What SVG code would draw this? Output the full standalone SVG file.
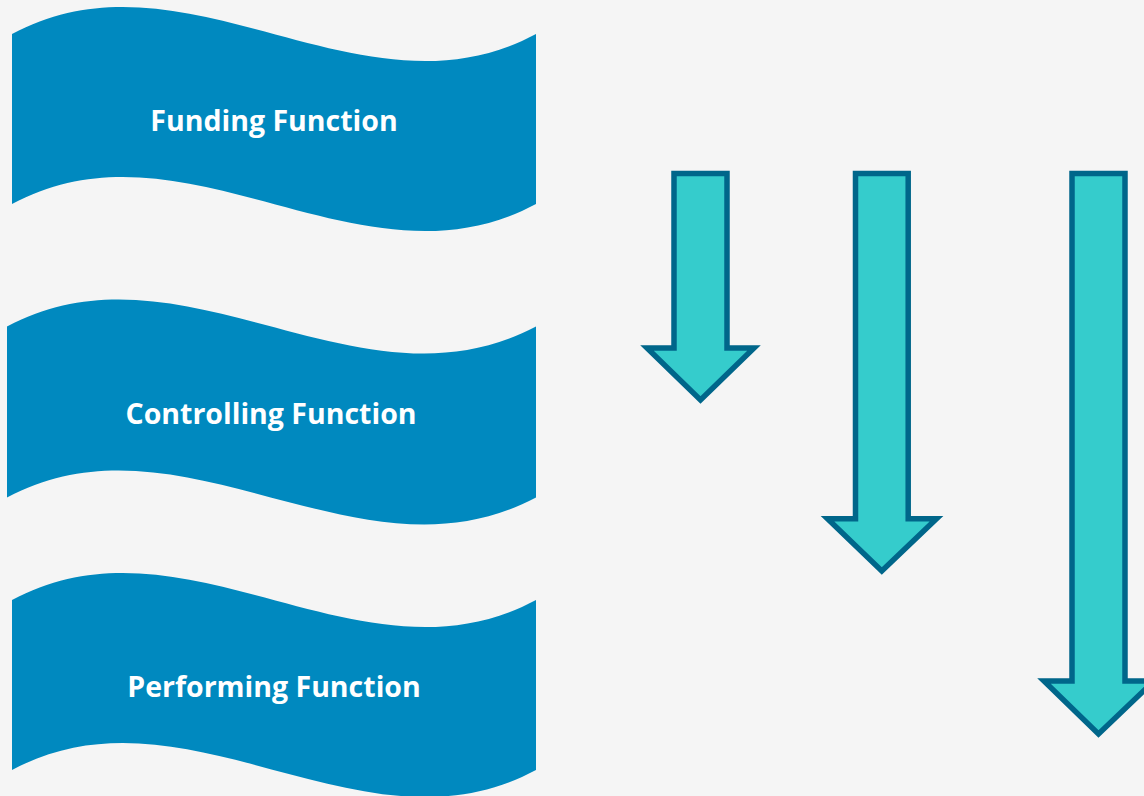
<svg xmlns="http://www.w3.org/2000/svg" width="1144" height="796" viewBox="0 0 1144 796">
<style>
.wave{fill:#0089BF;}
.lbl{fill:#FFFFFF;font-family:"Open Sans","Liberation Sans",sans-serif;font-weight:700;font-size:28.5px;text-anchor:middle;}
.arr{fill:#35CCCC;stroke:#00668A;stroke-width:5.5;stroke-linejoin:miter;stroke-miterlimit:10;}
</style>
<rect width="1144" height="796" fill="#F5F5F5"/>
<g id="funding">
<path class="wave" d="M12,34 C186.7,-59.5 361.3,127.5 536,34 L536,204 C361.3,297.5 186.7,110.5 12,204 Z"/>
<text class="lbl" x="274" y="131">Funding Function</text>
</g>
<g id="controlling">
<path class="wave" d="M7,326.5 C183.3,233 359.7,420 536,326.5 L536,497.5 C359.7,591 183.3,404 7,497.5 Z"/>
<text class="lbl" x="271" y="424">Controlling Function</text>
</g>
<g id="performing">
<path class="wave" d="M12,600 C186.7,506.5 361.3,693.5 536,600 L536,770 C361.3,863.5 186.7,676.5 12,770 Z"/>
<text class="lbl" x="274" y="697">Performing Function</text>
</g>
<g id="connectors">
<path class="arr" d="M674,173.5 H727 V348 H754 L700.5,400 L647,348 H674 Z"/>
<path class="arr" d="M855.5,173.5 H908.2 V518.7 H936.5 L881.8,571 L827.5,518.7 H855.5 Z"/>
<path class="arr" d="M1072,173.5 H1125 V681 H1154 L1098.5,734 L1044,681 H1072 Z"/>
</g>
</svg>
